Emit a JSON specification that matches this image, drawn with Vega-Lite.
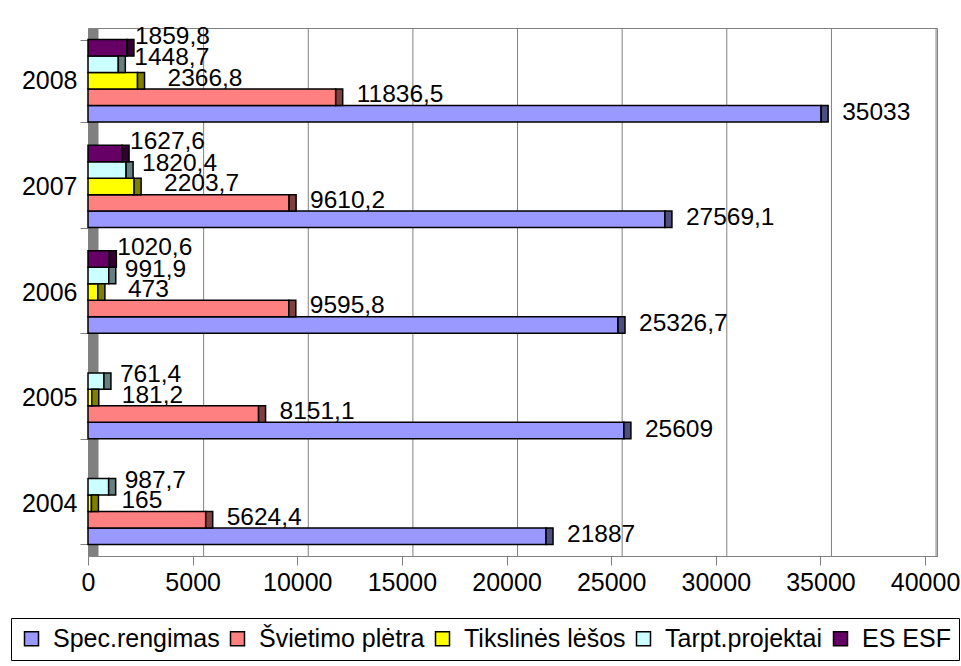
{
  "$schema": "https://vega.github.io/schema/vega-lite/v6.json",
  "width": 849,
  "height": 528,
  "autosize": {"type": "none"},
  "padding": {"left": 88, "top": 28, "right": 24, "bottom": 110},
  "background": "white",
  "config": {
    "font": "Liberation Sans",
    "locale": {"number": {"decimal": ",", "thousands": "", "grouping": [3], "currency": ["", ""]}},
    "view": {"stroke": "#808080", "strokeWidth": 1},
    "axisX": {"tickCount": 9, "labelFontSize": 25, "labelColor": "black", "tickSize": 9, "tickColor": "#808080", "domainColor": "#808080", "labelPadding": 5, "grid": false, "labelFlush": false, "labelOverlap": false},
    "axisY": {"labelFontSize": 25, "labelColor": "black", "tickSize": 13, "tickColor": "#808080", "domainColor": "#808080", "domainWidth": 10, "offset": -5, "labelPadding": 3, "grid": false, "tickBand": "extent"},
    "legend": {"orient": "none", "legendX": -77, "legendY": 590, "direction": "horizontal", "strokeColor": "black", "padding": 8, "labelFontSize": 25, "labelColor": "black", "labelLimit": 400, "symbolType": "square", "symbolSize": 196, "symbolStrokeColor": "black", "symbolStrokeWidth": 1.5, "columnPadding": 5, "labelOffset": 9}
  },
  "datasets": {
    "budget": [
      {"year": "2008", "series": "Spec.rengimas", "value": 35033},
      {"year": "2008", "series": "Švietimo plėtra", "value": 11836.5},
      {"year": "2008", "series": "Tikslinės lėšos", "value": 2366.8},
      {"year": "2008", "series": "Tarpt.projektai", "value": 1448.7},
      {"year": "2008", "series": "ES ESF", "value": 1859.8},
      {"year": "2007", "series": "Spec.rengimas", "value": 27569.1},
      {"year": "2007", "series": "Švietimo plėtra", "value": 9610.2},
      {"year": "2007", "series": "Tikslinės lėšos", "value": 2203.7},
      {"year": "2007", "series": "Tarpt.projektai", "value": 1820.4},
      {"year": "2007", "series": "ES ESF", "value": 1627.6},
      {"year": "2006", "series": "Spec.rengimas", "value": 25326.7},
      {"year": "2006", "series": "Švietimo plėtra", "value": 9595.8},
      {"year": "2006", "series": "Tikslinės lėšos", "value": 473},
      {"year": "2006", "series": "Tarpt.projektai", "value": 991.9},
      {"year": "2006", "series": "ES ESF", "value": 1020.6},
      {"year": "2005", "series": "Spec.rengimas", "value": 25609},
      {"year": "2005", "series": "Švietimo plėtra", "value": 8151.1},
      {"year": "2005", "series": "Tikslinės lėšos", "value": 181.2},
      {"year": "2005", "series": "Tarpt.projektai", "value": 761.4},
      {"year": "2004", "series": "Spec.rengimas", "value": 21887},
      {"year": "2004", "series": "Švietimo plėtra", "value": 5624.4},
      {"year": "2004", "series": "Tikslinės lėšos", "value": 165},
      {"year": "2004", "series": "Tarpt.projektai", "value": 987.7}
    ],
    "grid": [
      {"g": 5000}, {"g": 10000}, {"g": 15000}, {"g": 20000}, {"g": 25000}, {"g": 30000}, {"g": 35000}, {"g": 40000}
    ]
  },
  "layer": [
    {
      "data": {"name": "grid"},
      "mark": {"type": "rule", "color": "#808080", "strokeWidth": 1, "xOffset": 11},
      "encoding": {
        "x": {"field": "g", "type": "quantitative", "scale": {"domain": [0, 40570], "nice": false}, "title": null}
      }
    },
    {
      "data": {"name": "budget"},
      "mark": {"type": "bar", "stroke": "black", "strokeWidth": 1.5},
      "encoding": {
        "x": {"field": "value", "type": "quantitative", "scale": {"domain": [0, 40570], "nice": false}, "title": null},
        "y": {"field": "year", "type": "nominal", "sort": "descending", "scale": {"paddingInner": 0.22, "paddingOuter": 0.11}, "title": null},
        "yOffset": {"field": "series", "type": "nominal", "sort": ["ES ESF", "Tarpt.projektai", "Tikslinės lėšos", "Švietimo plėtra", "Spec.rengimas"], "scale": {"paddingInner": 0, "paddingOuter": 0}},
        "color": {
          "field": "series", "type": "nominal", "title": null,
          "scale": {"domain": ["Spec.rengimas", "Švietimo plėtra", "Tikslinės lėšos", "Tarpt.projektai", "ES ESF"], "range": ["#9999FF", "#FF8080", "#FFFF00", "#CCFFFF", "#660066"]}
        }
      }
    },
    {
      "data": {"name": "budget"},
      "mark": {"type": "bar", "stroke": "black", "strokeWidth": 1.5, "x2Offset": 7},
      "encoding": {
        "x": {"field": "value", "type": "quantitative", "scale": {"domain": [0, 40570], "nice": false}, "title": null},
        "x2": {"field": "value"},
        "y": {"field": "year", "type": "nominal", "sort": "descending", "title": null},
        "yOffset": {"field": "series", "type": "nominal", "sort": ["ES ESF", "Tarpt.projektai", "Tikslinės lėšos", "Švietimo plėtra", "Spec.rengimas"]},
        "color": {
          "field": "series", "type": "nominal", "legend": null,
          "scale": {"domain": ["Spec.rengimas", "Švietimo plėtra", "Tikslinės lėšos", "Tarpt.projektai", "ES ESF"], "range": ["#4D4D80", "#804040", "#808000", "#668080", "#330033"]}
        }
      }
    },
    {
      "data": {"name": "budget"},
      "transform": [{"filter": "datum.series == 'Spec.rengimas'"}],
      "mark": {"type": "text", "align": "left", "baseline": "middle", "fontSize": 24.5, "color": "black", "dx": 21, "dy": -1},
      "encoding": {
        "x": {"field": "value", "type": "quantitative", "scale": {"domain": [0, 40570], "nice": false}, "title": null},
        "y": {"field": "year", "type": "nominal", "sort": "descending", "title": null},
        "yOffset": {"field": "series", "type": "nominal", "sort": ["ES ESF", "Tarpt.projektai", "Tikslinės lėšos", "Švietimo plėtra", "Spec.rengimas"]},
        "text": {"field": "value", "type": "quantitative", "format": "~g"}
      }
    },
    {
      "data": {"name": "budget"},
      "transform": [{"filter": "datum.series == 'Švietimo plėtra'"}],
      "mark": {"type": "text", "align": "left", "baseline": "middle", "fontSize": 24.5, "color": "black", "dx": 21, "dy": -2},
      "encoding": {
        "x": {"field": "value", "type": "quantitative", "scale": {"domain": [0, 40570], "nice": false}, "title": null},
        "y": {"field": "year", "type": "nominal", "sort": "descending", "title": null},
        "yOffset": {"field": "series", "type": "nominal", "sort": ["ES ESF", "Tarpt.projektai", "Tikslinės lėšos", "Švietimo plėtra", "Spec.rengimas"]},
        "text": {"field": "value", "type": "quantitative", "format": "~g"}
      }
    },
    {
      "data": {"name": "budget"},
      "transform": [{"filter": "datum.series == 'Tikslinės lėšos'"}],
      "mark": {"type": "text", "align": "left", "baseline": "middle", "fontSize": 24.5, "color": "black", "dx": 30, "dy": -2},
      "encoding": {
        "x": {"field": "value", "type": "quantitative", "scale": {"domain": [0, 40570], "nice": false}, "title": null},
        "y": {"field": "year", "type": "nominal", "sort": "descending", "title": null},
        "yOffset": {"field": "series", "type": "nominal", "sort": ["ES ESF", "Tarpt.projektai", "Tikslinės lėšos", "Švietimo plėtra", "Spec.rengimas"]},
        "text": {"field": "value", "type": "quantitative", "format": "~g"}
      }
    },
    {
      "data": {"name": "budget"},
      "transform": [{"filter": "datum.series == 'Tarpt.projektai'"}],
      "mark": {"type": "text", "align": "left", "baseline": "middle", "fontSize": 24.5, "color": "black", "dx": 16, "dy": -6},
      "encoding": {
        "x": {"field": "value", "type": "quantitative", "scale": {"domain": [0, 40570], "nice": false}, "title": null},
        "y": {"field": "year", "type": "nominal", "sort": "descending", "title": null},
        "yOffset": {"field": "series", "type": "nominal", "sort": ["ES ESF", "Tarpt.projektai", "Tikslinės lėšos", "Švietimo plėtra", "Spec.rengimas"]},
        "text": {"field": "value", "type": "quantitative", "format": "~g"}
      }
    },
    {
      "data": {"name": "budget"},
      "transform": [{"filter": "datum.series == 'ES ESF'"}],
      "mark": {"type": "text", "align": "left", "baseline": "middle", "fontSize": 24.5, "color": "black", "dx": 8, "dy": -11},
      "encoding": {
        "x": {"field": "value", "type": "quantitative", "scale": {"domain": [0, 40570], "nice": false}, "title": null},
        "y": {"field": "year", "type": "nominal", "sort": "descending", "title": null},
        "yOffset": {"field": "series", "type": "nominal", "sort": ["ES ESF", "Tarpt.projektai", "Tikslinės lėšos", "Švietimo plėtra", "Spec.rengimas"]},
        "text": {"field": "value", "type": "quantitative", "format": "~g"}
      }
    }
  ],
  "resolve": {"scale": {"color": "independent"}}
}
